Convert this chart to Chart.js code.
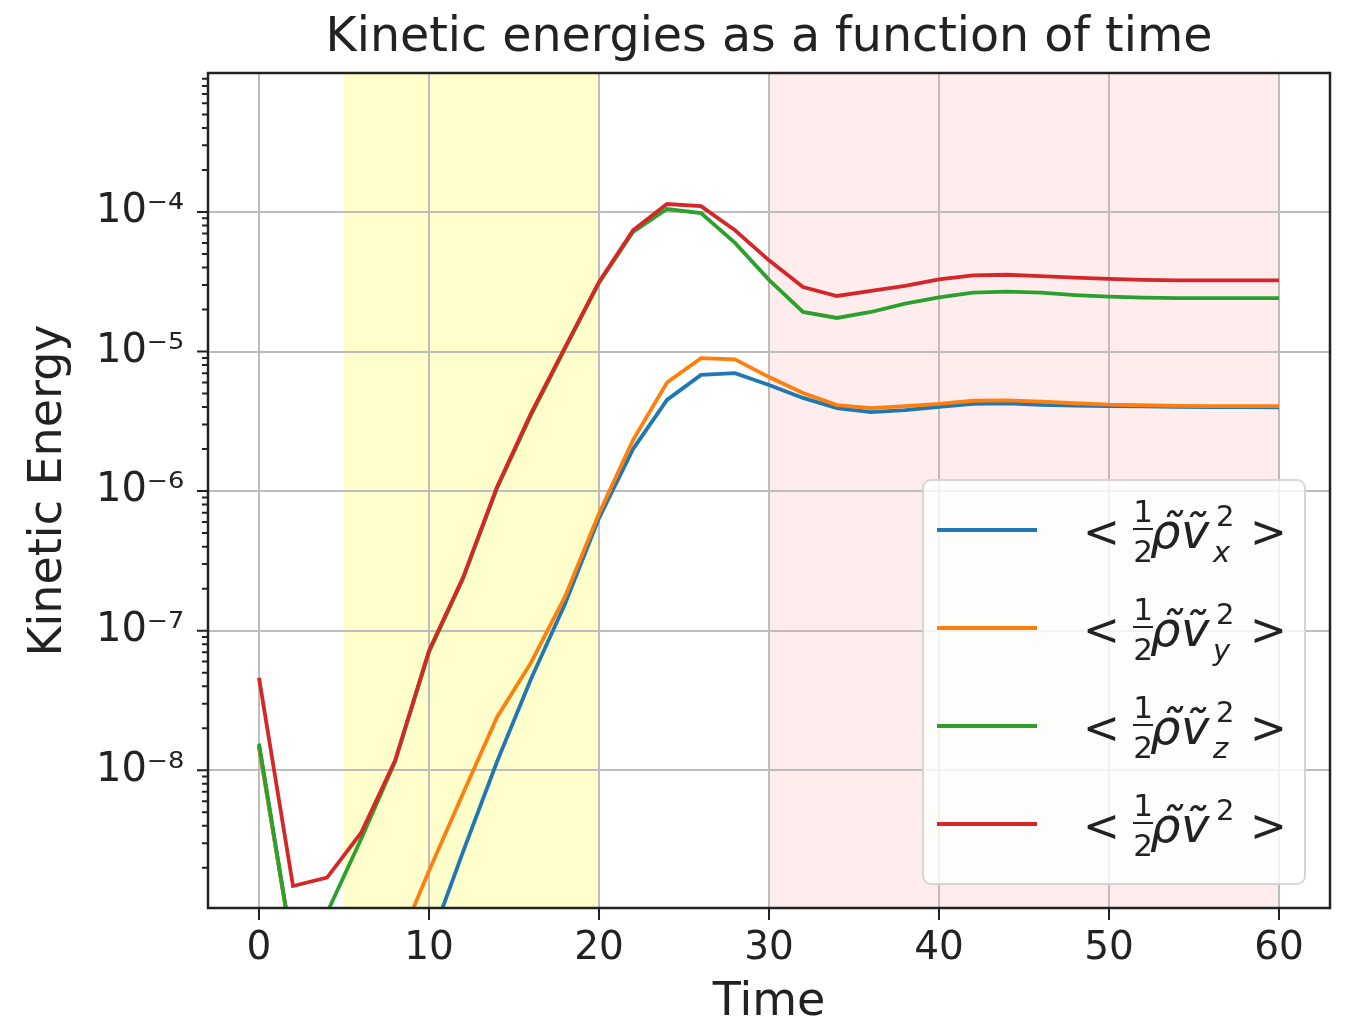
<!DOCTYPE html>
<html>
<head>
<meta charset="utf-8">
<script src="https://cdn.jsdelivr.net/npm/chart.js@4.4.1/dist/chart.umd.min.js"></script>
<style>
  html, body { margin: 0; padding: 0; background: #fff; }
  #lienzo { position: relative; width: 1356px; height: 1026px; }
  #energia { position: absolute; left: 0; top: 0; }
  .leyenda {
    position: absolute; left: 922px; top: 479px; width: 380px; height: 402px;
    background: rgba(255, 255, 255, 0.8); border: 2px solid rgba(204, 204, 204, 0.8);
    border-radius: 9px; font-family: 'DejaVu Sans', sans-serif; color: #222;
  }
  .fila { position: absolute; left: 0; width: 100%; height: 70px; }
  .fila span { position: absolute; line-height: 1; white-space: nowrap; }
  .muestra { left: 13px; top: 33px; width: 100px; height: 3.8px; }
  .rel { font-size: 44px; top: 15px; }
  .dig { font-size: 31px; width: 24px; text-align: center; left: 207px; }
  .barra { left: 209px; top: 33px; width: 20px; height: 2px; background: #222; }
  .var { font-size: 48px; font-style: italic; top: 12px; }
  .ind { font-size: 29px; }
</style>
</head>
<body>
<div id="lienzo">
  <canvas id="energia" width="1356" height="1026"></canvas>
  <div class="leyenda" id="leyenda"></div>
</div>
<script>
// tiempo de simulación y energías cinéticas promediadas
const tiempo = [0, 2, 4, 6, 8, 10, 12, 14, 16, 18, 20, 22, 24, 26, 28, 30,
  32, 34, 36, 38, 40, 42, 44, 46, 48, 50, 52, 54, 56, 58, 60];
const ekX = [1.5e-8, 5e-10, 3.6e-10, 1.6e-10, 1.5e-10, 5.6e-10, 2.6e-9, 1.15e-8, 4.5e-8, 1.55e-7,
  6.4e-7, 2.0e-6, 4.5e-6, 6.8e-6, 7.0e-6, 5.75e-6, 4.65e-6, 3.93e-6, 3.68e-6, 3.8e-6,
  4.02e-6, 4.21e-6, 4.26e-6, 4.15e-6, 4.1e-6, 4.06e-6, 4.04e-6, 4.02e-6, 4.0e-6, 3.99e-6, 3.98e-6];
const ekY = [1.45e-8, 5e-10, 3.8e-10, 2e-10, 5e-10, 1.9e-9, 6.8e-9, 2.4e-8, 5.9e-8, 1.75e-7,
  6.9e-7, 2.32e-6, 6.0e-6, 8.97e-6, 8.8e-6, 6.56e-6, 5.04e-6, 4.13e-6, 3.93e-6, 4.06e-6,
  4.21e-6, 4.44e-6, 4.47e-6, 4.37e-6, 4.26e-6, 4.16e-6, 4.12e-6, 4.08e-6, 4.06e-6, 4.06e-6, 4.06e-6];
const ekZ = [1.55e-8, 5e-10, 9.5e-10, 3.2e-9, 1.15e-8, 7.0e-8, 2.35e-7, 1.05e-6, 3.5e-6, 1.05e-5,
  3.1e-5, 7.2e-5, 1.05e-4, 9.8e-5, 6.0e-5, 3.26e-5, 1.92e-5, 1.74e-5, 1.92e-5, 2.2e-5,
  2.44e-5, 2.64e-5, 2.69e-5, 2.64e-5, 2.54e-5, 2.47e-5, 2.43e-5, 2.41e-5, 2.41e-5, 2.41e-5, 2.41e-5];
const ekTotal = [4.6e-8, 1.48e-9, 1.7e-9, 3.55e-9, 1.17e-8, 7.2e-8, 2.4e-7, 1.07e-6, 3.6e-6, 1.07e-5,
  3.15e-5, 7.4e-5, 1.14e-4, 1.10e-4, 7.4e-5, 4.5e-5, 2.9e-5, 2.5e-5, 2.72e-5, 2.95e-5,
  3.29e-5, 3.51e-5, 3.55e-5, 3.47e-5, 3.38e-5, 3.31e-5, 3.26e-5, 3.23e-5, 3.23e-5, 3.23e-5, 3.23e-5];

const componentes = ['x', 'y', 'z', ''];
const colores = ['#1f77b4', '#ff7f0e', '#2ca02c', '#d62728'];

const ticksTiempo = [0, 10, 20, 30, 40, 50, 60];
const decadas = [1e-8, 1e-7, 1e-6, 1e-5, 1e-4];
const etiquetasDecadas = ['10⁻⁸', '10⁻⁷', '10⁻⁶', '10⁻⁵', '10⁻⁴'];

// intervalos sombreados: crecimiento lineal y régimen saturado
const zonas = [[5, 20], [30, 60]];
const coloresZonas = ['rgba(255, 255, 0, 0.2)', 'rgba(255, 0, 0, 0.07)'];

const series = [ekX, ekY, ekZ, ekTotal];
const texto = 'DejaVu Sans';
const tinta = '#222';

const sombreado = {
  id: 'sombreado',
  beforeDraw(chart) {
    const {ctx, chartArea: a, scales: {x}} = chart;
    ctx.save();
    zonas.forEach(([t0, t1], i) => {
      const x0 = x.getPixelForValue(t0);
      const x1 = x.getPixelForValue(t1);
      ctx.fillStyle = coloresZonas[i];
      ctx.fillRect(x0, a.top, x1 - x0, a.bottom - a.top);
    });
    ctx.restore();
  }
};

// marco y marcas de las escalas (mayores y menores en el eje log)
const marco = {
  id: 'marco',
  afterDraw(chart) {
    const {ctx, chartArea: a, scales: {x, y}} = chart;
    ctx.save();
    ctx.strokeStyle = tinta;
    ctx.lineWidth = 2;
    ctx.beginPath();
    ticksTiempo.forEach(t => {
      const px = x.getPixelForValue(t);
      ctx.moveTo(px, a.bottom);
      ctx.lineTo(px, a.bottom + 12);
    });
    for (let e = -10; e <= -3; e++) {
      for (let m = 1; m <= 9; m++) {
        const v = m * Math.pow(10, e);
        if (v < y.min || v > y.max) continue;
        const py = y.getPixelForValue(v);
        ctx.moveTo(a.left, py);
        ctx.lineTo(a.left - (m === 1 ? 11 : 6), py);
      }
    }
    ctx.stroke();
    ctx.lineWidth = 2.5;
    ctx.strokeRect(a.left, a.top, a.right - a.left, a.bottom - a.top);
    ctx.restore();
  }
};

new Chart(document.getElementById('energia'), {
  type: 'line',
  data: {
    datasets: series.map((serie, i) => ({
      label: '<½ρ̃ṽ' + componentes[i] + '²>',
      data: tiempo.map((t, k) => ({x: t, y: serie[k]})),
      borderColor: colores[i],
      backgroundColor: colores[i],
      borderWidth: 3.8,
      pointRadius: 0,
      tension: 0,
      order: series.length - i
    }))
  },
  options: {
    responsive: false,
    animation: false,
    layout: {padding: {left: 0, right: 26, top: 0, bottom: 0}},
    scales: {
      x: {
        type: 'linear',
        min: -3,
        max: 63,
        afterBuildTicks: scale => { scale.ticks = ticksTiempo.map(v => ({value: v})); },
        afterFit: scale => { scale.height = 118; },
        ticks: {padding: 17, color: tinta, font: {family: texto, size: 39}},
        grid: {color: '#bdbdbd', lineWidth: 2, drawTicks: false},
        border: {display: false},
        title: {display: true, text: 'Time', color: tinta,
          font: {family: texto, size: 46, lineHeight: 1}, padding: {top: 0, bottom: 0}}
      },
      y: {
        type: 'logarithmic',
        min: 1.03e-9,
        max: 9.9e-4,
        afterBuildTicks: scale => { scale.ticks = decadas.map(v => ({value: v, major: true})); },
        afterFit: scale => { scale.width = 208; },
        ticks: {
          padding: 24, color: tinta, font: {family: texto, size: 40},
          callback: (v, i) => etiquetasDecadas[i]
        },
        grid: {color: '#bdbdbd', lineWidth: 2, drawTicks: false},
        border: {display: false},
        title: {display: true, text: 'Kinetic Energy', color: tinta,
          font: {family: texto, size: 46, lineHeight: 1.2}, padding: {top: 21, bottom: 0}}
      }
    },
    plugins: {
      legend: {display: false},
      tooltip: {enabled: false},
      title: {
        display: true,
        fullSize: false,
        text: 'Kinetic energies as a function of time',
        color: tinta,
        font: {family: texto, size: 47.5, weight: 'normal', lineHeight: 1.2},
        padding: {top: 10.5, bottom: 5.5}
      }
    }
  },
  plugins: [sombreado, marco]
});

// leyenda con la notación de las energías: < ½ ρ̃ ṽ²ᵢ >
const leyenda = document.getElementById('leyenda');
componentes.forEach((c, i) => {
  const fila = document.createElement('div');
  fila.className = 'fila';
  fila.style.top = (14 + 98 * i) + 'px';
  fila.innerHTML =
    '<span class="muestra" style="background:' + colores[i] + '"></span>' +
    '<span class="rel" style="left:159px">&lt;</span>' +
    '<span class="dig" style="top:1px">1</span>' +
    '<span class="barra"></span>' +
    '<span class="dig" style="top:41px">2</span>' +
    '<span class="var" style="left:226px">ρ̃</span>' +
    '<span class="var" style="left:257px">ṽ</span>' +
    '<span class="ind" style="left:292px;top:7px">2</span>' +
    '<span class="ind" style="left:289px;top:43px;font-style:italic">' + c + '</span>' +
    '<span class="rel" style="left:326px">&gt;</span>';
  leyenda.appendChild(fila);
});
</script>
</body>
</html>
